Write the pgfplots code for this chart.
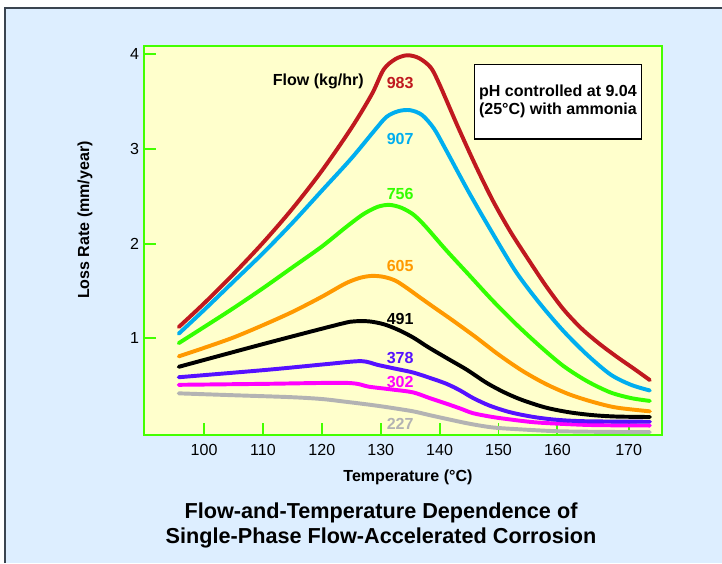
\documentclass[border=0pt]{standalone}
\usepackage{pgfplots}
\pgfplotsset{compat=1.18}
\usepackage{fontspec}
\setmainfont{Liberation Sans}

\definecolor{bgblue}{HTML}{DDEEFF}
\definecolor{framegray}{HTML}{3A4450}
\definecolor{plotyellow}{HTML}{FFFFCC}
\definecolor{axgreen}{HTML}{44FF00}
\definecolor{cred}{HTML}{C0191F}
\definecolor{cblue}{HTML}{00AEEF}
\definecolor{cgreen}{HTML}{33FF00}
\definecolor{corange}{HTML}{FF9900}
\definecolor{cpurple}{HTML}{5511FF}
\definecolor{cmag}{HTML}{FF00FF}
\definecolor{cgray}{HTML}{B3B3B3}

\newcommand{\lbl}{\bfseries\fontsize{11.4}{13}\selectfont}

\tikzset{
  curve/.style={line width=2.8pt, line cap=round, line join=round, smooth, tension=0.5},
}

\begin{document}
\begin{tikzpicture}
  % page frame (1 px = 0.025 cm)
  \path[use as bounding box] (0,0) rectangle (18.05,14.075);
  \fill[white] (0,0) rectangle (18.05,14.075);
  \fill[bgblue] (0.125,0) rectangle (18.05,13.875);
  \draw[framegray, line width=1.2pt] (0.125,0) -- (0.125,13.875) -- (18.05,13.875);

  \begin{axis}[
    at={(3.6cm,3.2cm)}, anchor=south west,
    scale only axis, width=12.94cm, height=9.73cm,
    xmin=89.8, xmax=177.7, ymin=-0.02, ymax=4.09,
    axis background/.style={fill=plotyellow},
    axis line style={draw=axgreen, line width=1.4pt},
    tick pos=left, tick align=inside,
    major tick length=0.3cm,
    tick style={draw=axgreen, line width=1.4pt},
    xtick={100,110,120,130,140,150,160,172.1},
    xticklabels={100,110,120,130,140,150,160,170},
    ytick={1,2,3,4}, yticklabels={1,2,3,4},
    ticklabel style={font=\fontsize{11.4}{13}\selectfont},
    xticklabel style={yshift=-0.12cm},
    xlabel={Temperature (°C)},
    ylabel={Loss Rate (mm/year)},
    xlabel style={font=\lbl, at={(axis description cs:0.51,-0.11)}, anchor=center},
    ylabel style={font=\lbl, at={(axis description cs:-0.114,0.552)}, anchor=center},
    clip=true,
  ]
    %% 227
    \addplot[curve, cgray] coordinates {
      (95.7,0.42)(105,0.40)(114.6,0.38)(120,0.36)(124.2,0.33)(128.1,0.30)
      (131.5,0.27)(135.5,0.23)(138.3,0.19)(141.2,0.15)(145,0.10)(149,0.06)
      (153.6,0.04)(160,0.02)(168,0.013)(175.7,0.01)
    };
    %% 302
    \addplot[curve, cmag] coordinates {
      (95.7,0.51)(110,0.52)(124.2,0.53)(128,0.49)(132,0.46)
      (135.5,0.43)(138.3,0.37)(141.2,0.31)(143.5,0.26)(145.7,0.21)
      (149,0.17)(152.5,0.14)(156,0.115)(160,0.10)(166,0.085)(175.7,0.08)
    };
    %% 378
    \addplot[curve, cpurple] coordinates {
      (95.7,0.59)(111,0.67)(121,0.73)(126.7,0.76)(129.5,0.72)
      (132.5,0.68)(135.5,0.64)(138.5,0.58)(141.2,0.52)(143.5,0.45)
      (145.7,0.37)(148.5,0.29)(152,0.22)(156,0.17)(160,0.14)(165,0.125)(175.7,0.12)
    };
    %% 491
    \addplot[curve, black] coordinates {
      (95.7,0.70)(110,0.94)(123,1.15)(125.5,1.18)(128,1.18)(130.5,1.15)
      (133,1.09)(135.5,1.01)(138,0.91)(141,0.80)(144.6,0.67)(148,0.53)
      (151,0.43)(154,0.35)(158,0.27)(162,0.22)(166,0.19)(170,0.175)(175.7,0.17)
    };
    %% 605
    \addplot[curve, corange] coordinates {
      (95.7,0.81)(100,0.90)(105,1.01)(110,1.14)(115,1.28)(120,1.44)
      (124,1.58)(126.5,1.64)(128.5,1.66)(130.5,1.65)(132.5,1.61)
      (134.5,1.53)(136.5,1.44)(139,1.33)(142,1.20)(146,1.02)(150,0.83)
      (154,0.66)(158,0.52)(162,0.41)(166,0.33)(170,0.27)(175.7,0.23)
    };
    %% 756
    \addplot[curve, cgreen] coordinates {
      (95.7,0.95)(100,1.12)(105,1.32)(110,1.53)(115,1.75)(120,1.97)
      (124,2.17)(127,2.31)(129.5,2.39)(131.5,2.41)(133.5,2.38)(135.5,2.31)
      (137.5,2.19)(141,1.94)(145,1.67)(149,1.40)(153,1.15)(157,0.92)
      (161,0.71)(165,0.55)(169,0.43)(172.5,0.37)(175.7,0.34)
    };
    %% 907
    \addplot[curve, cblue] coordinates {
      (95.7,1.05)(100,1.30)(105,1.60)(110,1.90)(115,2.22)(120,2.56)
      (125,2.90)(129,3.20)(131,3.34)(133,3.40)(135,3.41)(137,3.36)
      (139,3.22)(141,3.00)(145,2.54)(149,2.11)(153,1.70)(157,1.37)
      (161,1.08)(165,0.83)(169,0.62)(172.5,0.51)(175.7,0.45)
    };
    %% 983
    \addplot[curve, cred] coordinates {
      (95.7,1.12)(100,1.37)(105,1.68)(110,2.01)(115,2.37)(120,2.77)
      (125,3.22)(128.5,3.58)(130.5,3.84)(132.5,3.95)(134.5,3.99)
      (136.5,3.96)(138.5,3.86)(140,3.68)(143,3.25)(146,2.84)(149,2.46)
      (152,2.13)(155,1.84)(158,1.56)(161,1.31)(164,1.11)(167,0.95)
      (170,0.81)(173,0.68)(175.7,0.56)
    };

    %% flow labels
    \node[font=\lbl] at (axis cs:119.4,3.71) {Flow (kg/hr)};
    \node[font=\lbl, text=cred]    at (axis cs:133.3,3.70) {983};
    \node[font=\lbl, text=cblue]   at (axis cs:133.3,3.11) {907};
    \node[font=\lbl, text=cgreen]  at (axis cs:133.3,2.52) {756};
    \node[font=\lbl, text=corange] at (axis cs:133.3,1.77) {605};
    \node[font=\lbl, text=black]   at (axis cs:133.3,1.21) {491};
    \node[font=\lbl, text=cpurple] at (axis cs:133.3,0.79) {378};
    \node[font=\lbl, text=cmag]    at (axis cs:133.3,0.54) {302};
    \node[font=\lbl, text=cgray]   at (axis cs:133.3,0.10) {227};

    \node[draw=black, line width=1pt, fill=white, minimum width=4.17cm,
          minimum height=1.87cm, align=center,
          font=\bfseries\fontsize{11.4}{13}\selectfont]
      at (axis cs:160.1,3.50) {pH controlled at 9.04\\(25°C) with ammonia};
  \end{axis}

  \node[align=center, font=\bfseries\fontsize{15.4}{17.8}\selectfont]
    at (9.525,0.95) {Flow-and-Temperature Dependence of\\Single-Phase Flow-Accelerated Corrosion};
\end{tikzpicture}
\end{document}
